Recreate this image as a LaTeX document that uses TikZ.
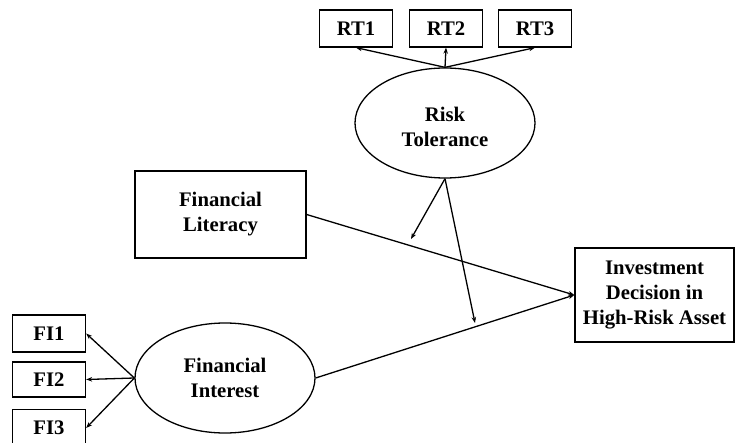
\documentclass[tikz,border=0pt]{standalone}
\usepackage{fontspec}
\setmainfont{Liberation Serif}
\usetikzlibrary{arrows.meta,shapes.geometric}
\begin{document}
\begin{tikzpicture}[x=1pt,y=-1pt,
  every node/.style={font=\fontsize{20.7}{25}\selectfont\bfseries, align=center, inner sep=0pt},
  box/.style={draw, line width=1.3pt, rectangle},
  ind/.style={box, minimum width=73pt, minimum height=37pt},
  latent/.style={draw, line width=1.3pt, ellipse, minimum width=180pt, minimum height=110pt},
  link/.style={line width=1.3pt, -{Stealth[length=6pt,width=4.5pt]}}]
\useasboundingbox (0,0) rectangle (735,443);
% indicators
\node[ind] (RT1) at (356,28.5) {RT1};
\node[ind] (RT2) at (446,28.5) {RT2};
\node[ind] (RT3) at (535,28.5) {RT3};
\node[ind] (FI1) at (49,333.5) {FI1};
\node[ind, minimum height=35pt] (FI2) at (49,379.5) {FI2};
\node[ind] (FI3) at (49,428) {FI3};
% latents
\node[latent] (RT) at (445,123) {};
\node (RTtext) at (445,127) {Risk\\Tolerance};
\node[latent] (FI) at (225,378) {Financial\\Interest};
% observed
\node[box, minimum width=171pt, minimum height=87pt] (FL) at (220.5,214.5) {Financial\\Literacy};
\node[box, minimum width=159pt, minimum height=94pt] (ID) at (654.5,295) {Investment\\Decision in\\High-Risk Asset};
% moderation end points
\coordinate (m1) at (411,239);
\coordinate (m2) at (475,323);
% connectors
\draw[link] (RT.north) -- (RT1.south);
\draw[link] (RT.north) -- (RT2.south);
\draw[link] (RT.north) -- (RT3.south);
\draw[link] (FI.west) -- (FI1.east);
\draw[link] (FI.west) -- (FI2.east);
\draw[link] (FI.west) -- (FI3.east);
\draw[link] (FL.east) -- (ID.west);
\draw[link] (FI.east) -- (ID.west);
\draw[link] (RT.south) -- (m1);
\draw[link] (RT.south) -- (m2);
\end{tikzpicture}
\end{document}
